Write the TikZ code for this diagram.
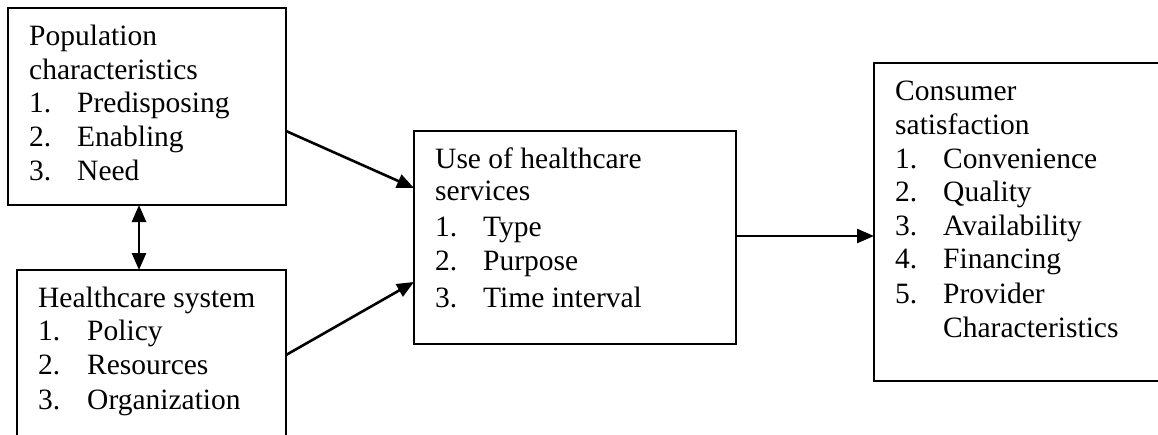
\documentclass[tikz,border=0pt]{standalone}
\usepackage{fontspec}
\setmainfont{Liberation Serif}
\usetikzlibrary{arrows.meta}
\begin{document}
\begin{tikzpicture}[x=1pt,y=-1pt,
  box/.style={draw=black,line width=2.6pt},
  txt/.style={anchor=base west,inner sep=0pt,font=\fontsize{29.5}{34}\selectfont},
  tip/.style={Triangle[length=17pt,width=14pt]},
  conn/.style={line width=2.6pt,-{Triangle[length=17pt,width=14pt]}},
  conn2/.style={line width=2.6pt,{Triangle[length=17pt,width=14pt]}-{Triangle[length=17pt,width=14pt]}}]
\useasboundingbox (0,0) rectangle (1158,434);
\clip (0,0) rectangle (1158,434);
\fill[white] (0,0) rectangle (1158,434);
% boxes
\draw[box] (8,8) rectangle (286,205);
\draw[box] (17,270) rectangle (286,460);
\draw[box] (414,131) rectangle (736,344);
\draw[box] (874,63) rectangle (1180,381);
% anchor coordinates
\coordinate (a1) at (286,131);
\coordinate (a2) at (139,205);
\coordinate (b1) at (286,355);
\coordinate (b2) at (139,270);
\coordinate (c1) at (414,188);
\coordinate (c2) at (414,282);
\coordinate (c3) at (736,236);
\coordinate (d1) at (874,236);
% box A text
\node[txt] (a0) at (29,45) {Population};
\node[txt] (a3) at (29,79) {characteristics};
\node[txt] (an1) at (29,112) {1.};
\node[txt] (ai1) at (77,112) {Predisposing};
\node[txt] (an2) at (29,146) {2.};
\node[txt] (ai2) at (77,146) {Enabling};
\node[txt] (an3) at (29,180) {3.};
\node[txt] (ai3) at (77,180) {Need};
% box B text
\node[txt] (b0) at (38,307) {Healthcare system};
\node[txt] (bn1) at (38,340) {1.};
\node[txt] (bi1) at (87,340) {Policy};
\node[txt] (bn2) at (38,374) {2.};
\node[txt] (bi2) at (87,374) {Resources};
\node[txt] (bn3) at (38,409) {3.};
\node[txt] (bi3) at (87,409) {Organization};
% box C text
\node[txt] (c0) at (435,168) {Use of healthcare};
\node[txt] (c4) at (435,200) {services};
\node[txt] (cn1) at (435,236) {1.};
\node[txt] (ci1) at (483,236) {Type};
\node[txt] (cn2) at (435,270) {2.};
\node[txt] (ci2) at (483,270) {Purpose};
\node[txt] (cn3) at (435,307) {3.};
\node[txt] (ci3) at (483,307) {Time interval};
% box D text
\node[txt] (d0) at (895,100) {Consumer};
\node[txt] (d2) at (895,134) {satisfaction};
\node[txt] (dn1) at (895,168) {1.};
\node[txt] (di1) at (943,168) {Convenience};
\node[txt] (dn2) at (895,201) {2.};
\node[txt] (di2) at (943,201) {Quality};
\node[txt] (dn3) at (895,235) {3.};
\node[txt] (di3) at (943,235) {Availability};
\node[txt] (dn4) at (895,268) {4.};
\node[txt] (di4) at (943,268) {Financing};
\node[txt] (dn5) at (895,303) {5.};
\node[txt] (di5) at (943,303) {Provider};
\node[txt] (di6) at (943,337) {Characteristics};
% connectors
\draw[conn] (a1) -- (c1);
\draw[conn] (b1) -- (c2);
\draw[conn] (c3) -- (d1);
\draw[conn2] (a2) -- (b2);
\end{tikzpicture}
\end{document}
